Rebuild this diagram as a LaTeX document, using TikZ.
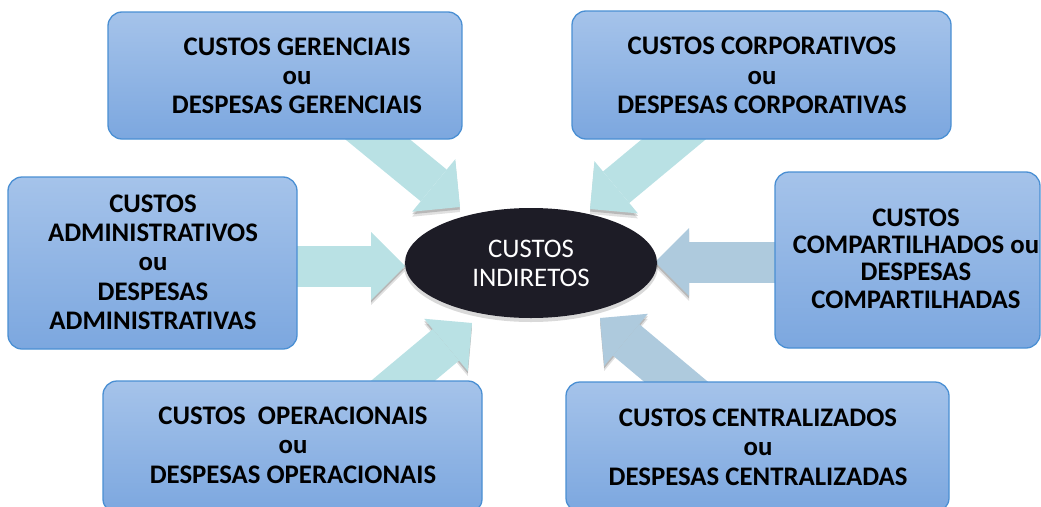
\documentclass[tikz,border=0pt]{standalone}
\usepackage{fontspec}
\setmainfont{Carlito}
\usetikzlibrary{arrows.meta,shapes.geometric}
\definecolor{boxtop}{HTML}{A5C3EA}
\definecolor{boxbot}{HTML}{7CA7DF}
\definecolor{boxline}{HTML}{4A8FD3}
\definecolor{arrcyan}{HTML}{B9E1E4}
\definecolor{arrblue}{HTML}{AECADD}
\definecolor{ellfill}{HTML}{1D1C26}
\begin{document}
\begin{tikzpicture}[x=1pt,y=-1pt,
  box/.style={draw=boxline, line width=1.3pt, rounded corners=14pt,
    top color=boxtop, bottom color=boxbot, inner sep=0pt},
  boxtext/.style={align=center, inner sep=0pt,
    font={\fontsize{26.8}{29.3}\selectfont\bfseries}},
  bigarr/.style={line width=41pt, draw=#1,
    -{Triangle[width=68pt,length=34pt,line width=0pt]},
    preaction={draw=black, opacity=0.12, transform canvas={yshift=-5pt}},
    preaction={draw=black, opacity=0.18, transform canvas={yshift=-2.5pt}}},
  center/.style={ellipse, fill=ellfill, minimum width=252pt, minimum height=110pt,
    inner sep=0pt, text=white, align=center,
    font={\fontsize{26.8}{29}\selectfont}}]
\useasboundingbox (0,0) rectangle (1041,506);

% arrow end points
\coordinate (s1) at (354,120);  \coordinate (e1) at (460,207);
\coordinate (s2) at (697,120);  \coordinate (e2) at (590,209);
\coordinate (s3) at (280,266);  \coordinate (e3) at (405,266);
\coordinate (s4) at (790,262);  \coordinate (e4) at (655,262);
\coordinate (s5) at (380,400);  \coordinate (e5) at (472,323);
\coordinate (s6) at (699,401);  \coordinate (e6) at (600,318);

\draw[bigarr=arrcyan] (s1) -- (e1);
\draw[bigarr=arrcyan] (s2) -- (e2);
\draw[bigarr=arrcyan] (s3) -- (e3);
\draw[bigarr=arrblue] (s4) -- (e4);
\draw[bigarr=arrcyan] (s5) -- (e5);
\draw[bigarr=arrblue] (s6) -- (e6);

% boxes
\node[box, minimum width=354pt, minimum height=127pt] (b1) at (285,75.5) {};
\node[box, minimum width=379pt, minimum height=128pt] (b2) at (761.5,75) {};
\node[box, minimum width=289pt, minimum height=172pt] (b3) at (152.5,263) {};
\node[box, minimum width=265pt, minimum height=176pt] (b4) at (907.5,260) {};
\node[box, minimum width=379pt, minimum height=132pt] (b5) at (292.5,447) {};
\node[box, minimum width=383pt, minimum height=130pt] (b6) at (757.5,447) {};

\node[boxtext] (t1) at (297,76) {CUSTOS GERENCIAIS\\ou\\DESPESAS GERENCIAIS};
\node[boxtext] (t2) at (762,75.5) {CUSTOS CORPORATIVOS\\ou\\DESPESAS CORPORATIVAS};
\node[boxtext] (t3) at (153,262) {CUSTOS\\ADMINISTRATIVOS\\ou\\DESPESAS\\ADMINISTRATIVAS};
\node[boxtext, font={\fontsize{26.8}{27.4}\selectfont\bfseries}] (t4) at (916,258.5)
  {CUSTOS\\COMPARTILHADOS ou\\DESPESAS\\COMPARTILHADAS};
\node[boxtext] (t5) at (293,445) {CUSTOS\ \ OPERACIONAIS\\ou\\DESPESAS OPERACIONAIS};
\node[boxtext] (t6) at (758,447) {CUSTOS CENTRALIZADOS\\ou\\DESPESAS CENTRALIZADAS};

% centre
\fill[black, opacity=0.15] (531,266) ellipse [x radius=127pt, y radius=56pt];
\node[center] (c) at (531,263) {CUSTOS\\INDIRETOS};
\end{tikzpicture}
\end{document}
